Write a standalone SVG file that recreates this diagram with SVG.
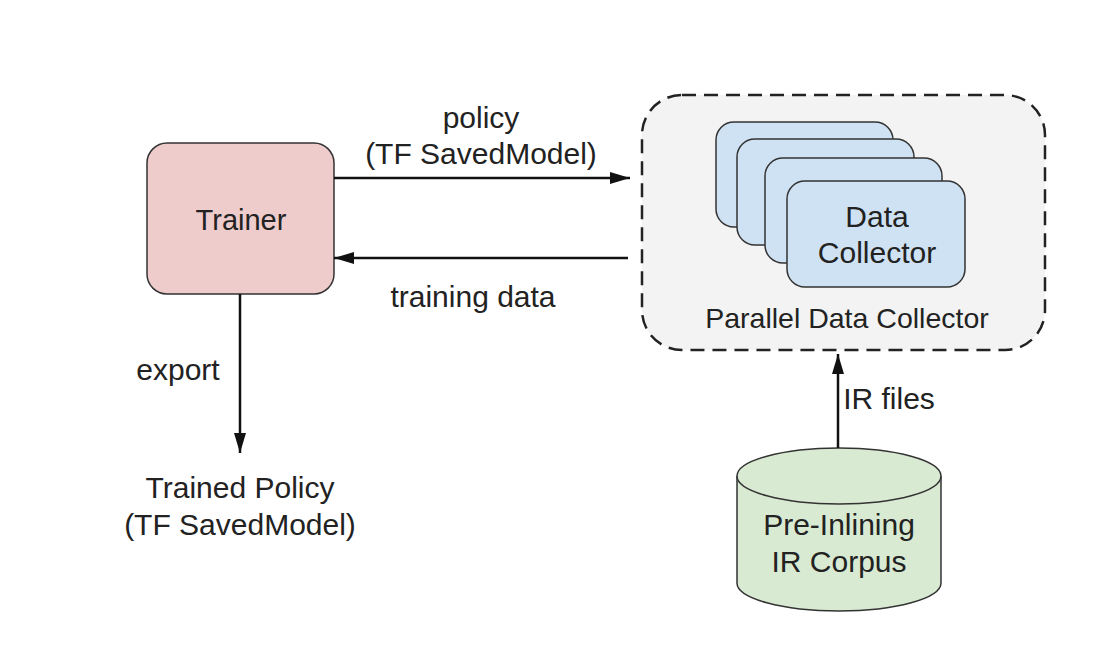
<svg xmlns="http://www.w3.org/2000/svg" width="1096" height="672" viewBox="0 0 1096 672">
<defs>
<style>
text{font-family:"Liberation Sans",Arial,sans-serif;font-size:30px;fill:#222;text-anchor:middle}
.box{stroke:#333;stroke-width:1.5}
.edge{stroke:#111;stroke-width:2.5;fill:none}
</style>
<marker id="ah" viewBox="0 0 20 12" refX="20" refY="6" markerWidth="20" markerHeight="12" markerUnits="userSpaceOnUse" orient="auto">
<path d="M0,0 L20,6 L0,12 z" fill="#111"/>
</marker>
</defs>
<rect width="1096" height="672" fill="#fff"/>
<g id="parallel">
<rect x="642" y="95" width="403" height="255" rx="40" ry="40" fill="#f3f3f3" stroke="#222" stroke-width="2.5" stroke-dasharray="14 8"/>
<text x="847" y="328" style="font-size:28.5px">Parallel Data Collector</text>
</g>
<g id="collectors">
<rect class="box" x="716" y="122" width="177" height="105" rx="18" fill="#cfe2f3"/>
<rect class="box" x="737" y="139" width="177" height="106" rx="18" fill="#cfe2f3"/>
<rect class="box" x="765" y="158" width="177" height="105" rx="18" fill="#cfe2f3"/>
<rect class="box" x="787" y="181" width="178" height="106" rx="18" fill="#cfe2f3"/>
<text x="877" y="227">Data</text>
<text x="877" y="263">Collector</text>
</g>
<g id="trainer">
<rect class="box" x="147" y="143" width="187" height="151" rx="20" fill="#eecccc"/>
<text x="241" y="230" style="font-size:29px">Trainer</text>
</g>
<g id="corpus">
<path class="box" d="M737,476 L737,583 A102,28 0 0 0 941,583 L941,476" fill="#d9ead3"/>
<ellipse class="box" cx="839" cy="476" rx="102" ry="28" fill="#d9ead3"/>
<text x="839" y="535">Pre-Inlining</text>
<text x="839" y="572">IR Corpus</text>
</g>
<g id="trained-policy">
<text x="240" y="498">Trained Policy</text>
<text x="240" y="535">(TF SavedModel)</text>
</g>
<g id="connectors">
<line class="edge" x1="334" y1="178" x2="630" y2="178" marker-end="url(#ah)"/>
<line class="edge" x1="628" y1="258" x2="334" y2="258" marker-end="url(#ah)"/>
<line class="edge" x1="240" y1="294" x2="240" y2="453" marker-end="url(#ah)"/>
<line class="edge" x1="838" y1="448" x2="838" y2="354" marker-end="url(#ah)"/>
<text x="481" y="128">policy</text>
<text x="481" y="164">(TF SavedModel)</text>
<text x="473" y="307">training data</text>
<text x="178" y="380">export</text>
<text x="889" y="409">IR files</text>
</g>
</svg>
